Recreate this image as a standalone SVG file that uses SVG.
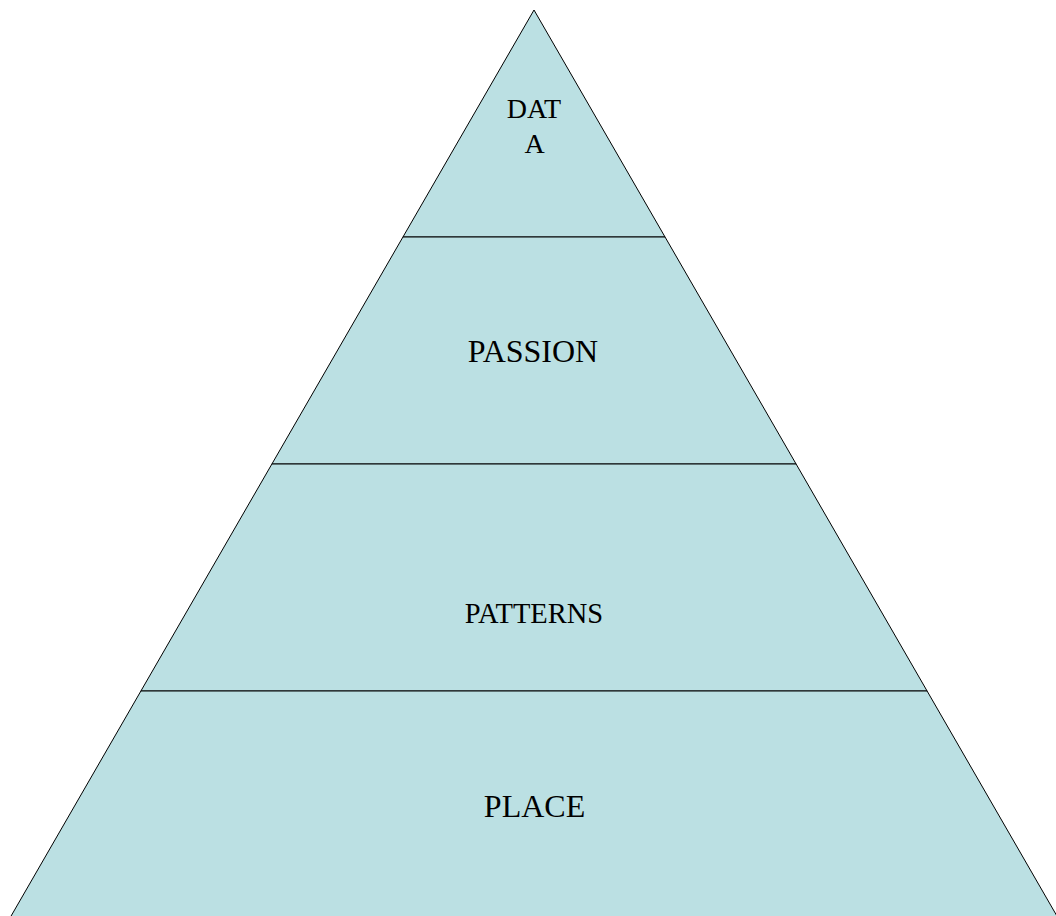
<svg xmlns="http://www.w3.org/2000/svg" width="1056" height="916" viewBox="0 0 1056 916">
<style>
.lvl{fill:#BBE0E3;stroke:#000;stroke-width:1;stroke-linejoin:miter}
.lbl{font-family:"Liberation Serif","Times New Roman",serif;fill:#000;text-anchor:middle}
</style>
<rect width="1056" height="916" fill="#fff"/>
<g id="level-data">
<polygon class="lvl" points="534,10 665.05,237 402.95,237"/>
<text class="lbl" x="534" y="118" font-size="28">DAT</text>
<text class="lbl" x="534.5" y="153" font-size="28">A</text>
</g>
<g id="level-passion">
<polygon class="lvl" points="402.95,237 665.05,237 796.1,464 271.9,464"/>
<text class="lbl" x="533" y="362" font-size="32">PASSION</text>
</g>
<g id="level-patterns">
<polygon class="lvl" points="271.9,464 796.1,464 927.1,691 140.9,691"/>
<text class="lbl" x="534" y="622.5" font-size="28.5">PATTERNS</text>
</g>
<g id="level-place">
<polygon class="lvl" points="140.9,691 927.1,691 1057.5,917 10.5,917"/>
<text class="lbl" x="534.5" y="816.5" font-size="32">PLACE</text>
</g>
<g id="connectors"></g>
</svg>
